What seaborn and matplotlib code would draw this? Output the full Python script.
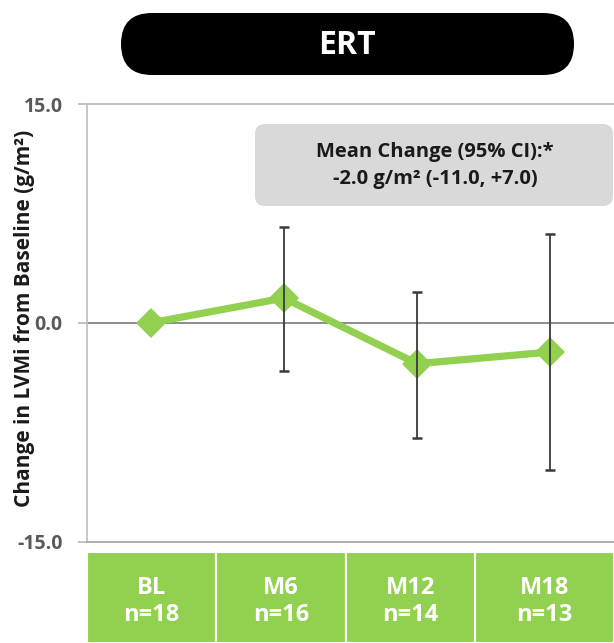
import matplotlib
matplotlib.use("Agg")
import matplotlib.pyplot as plt
from matplotlib.patches import FancyBboxPatch, Rectangle
from matplotlib.transforms import blended_transform_factory
import numpy as np
import pandas as pd
import seaborn as sns

# Visits, patients per visit, and change in LVMi (g/m^2) with interval bounds
visits = ["BL", "M6", "M12", "M18"]
n_patients = [18, 16, 14, 13]
mean_change = [0.0, 1.7, -2.8, -2.0]
ci_lower = [np.nan, -3.3, -7.9, -10.1]
ci_upper = [np.nan, 6.6, 2.1, 6.1]
y_ticks = [-15.0, 0.0, 15.0]
panel_title = "ERT"
summary_lines = ["Mean Change (95% CI):*", "-2.0 g/m\u00b2 (-11.0, +7.0)"]

GREEN = "#92d050"
FONT = ["Open Sans", "DejaVu Sans"]

sns.set_theme(style="white")
plt.rcParams["font.family"] = FONT

df = pd.DataFrame({"visit": visits, "pos": np.arange(len(visits)),
                   "change": mean_change, "lo": ci_lower, "hi": ci_upper})

W, H = 614, 643
fig = plt.figure(figsize=(W / 100, H / 100), dpi=100)
ax = fig.add_axes([87 / W, (H - 541.7) / H, (W - 87) / W, 437.7 / H])

# connecting line with diamond markers
sns.lineplot(data=df, x="pos", y="change", ax=ax, color=GREEN, linewidth=5.2,
             marker="D", markersize=15, markeredgecolor=GREEN,
             markeredgewidth=0, zorder=4)

# interval whiskers
err = np.vstack([df["change"] - df["lo"], df["hi"] - df["change"]])
ax.errorbar(df["pos"], df["change"], yerr=err, fmt="none", ecolor="#3a3a3a",
            elinewidth=1.3, capsize=3.5, capthick=1.8, zorder=5)

ax.axhline(0, color="#858585", linewidth=1.3, zorder=2)

ax.set_xlim(-0.48, 3.48)
ax.set_ylim(-15, 15)
ax.set_yticks(y_ticks)
ax.set_yticklabels([f"{v:.1f}" for v in y_ticks])
ax.set_xticks([])
ax.set_xlabel("")
ax.set_ylabel("Change in LVMi from Baseline (g/m\u00b2)", fontsize=15,
              fontweight="bold", color="#1a1a1a")
ax.yaxis.set_label_coords(-0.098, 0.51)
ax.tick_params(axis="y", which="major", left=True, length=6.5, width=1.2,
               color="#b8b8b8", pad=11, labelsize=14, labelcolor="#595959")
for lab in ax.get_yticklabels():
    lab.set_fontweight("bold")

for side in ["left", "top", "bottom"]:
    ax.spines[side].set_visible(True)
    ax.spines[side].set_linewidth(1.3)
ax.spines["left"].set_color("#c4c4c4")
ax.spines["top"].set_color("#bdbdbd")
ax.spines["bottom"].set_color("#a8a8a8")
ax.spines["right"].set_visible(False)

# summary box
box = FancyBboxPatch((255 / W, (H - 206) / H), 358 / W, 82 / H,
                     boxstyle="round,pad=0,rounding_size=%f" % (10 / W),
                     mutation_aspect=W / H, transform=fig.transFigure,
                     facecolor="#d9d9d9", edgecolor="none", zorder=3)
fig.patches.append(box)
for txt, yp in zip(summary_lines, [152, 179]):
    fig.text(435 / W, (H - yp) / H, txt, ha="center", va="center",
             fontsize=14.5, fontweight="bold", color="#1a1a1a")

# title pill
pill = FancyBboxPatch((121 / W, (H - 75) / H), 453 / W, 62 / H,
                      boxstyle="round,pad=0,rounding_size=%f" % (31 / W),
                      mutation_aspect=W / H, transform=fig.transFigure,
                      facecolor="black", edgecolor="none")
fig.patches.append(pill)
fig.text(347 / W, (H - 45) / H, panel_title, ha="center", va="center",
         fontsize=23, fontweight="bold", color="white")

# visit / sample-size strip beneath the axis
tr = blended_transform_factory(ax.transData, fig.transFigure)
edges = [-0.48, 0.49, 1.465, 2.435, 3.48]
strip_top = (H - 552) / H
for i, (v, n) in enumerate(zip(visits, n_patients)):
    x0, x1 = edges[i], edges[i + 1]
    rect = Rectangle((x0, 0), x1 - x0, strip_top, transform=tr,
                     facecolor=GREEN, edgecolor="white", linewidth=1.5,
                     clip_on=False)
    fig.patches.append(rect)
    xc = (x0 + x1) / 2
    fig.text(0, (H - 588) / H, v, transform=tr, ha="center", va="center",
             fontsize=17, fontweight="bold", color="white").set_x(xc)
    fig.text(0, (H - 615) / H, f"n={n}", transform=tr, ha="center",
             va="center", fontsize=17, fontweight="bold",
             color="white").set_x(xc)

fig.savefig("out.png", dpi=100)
